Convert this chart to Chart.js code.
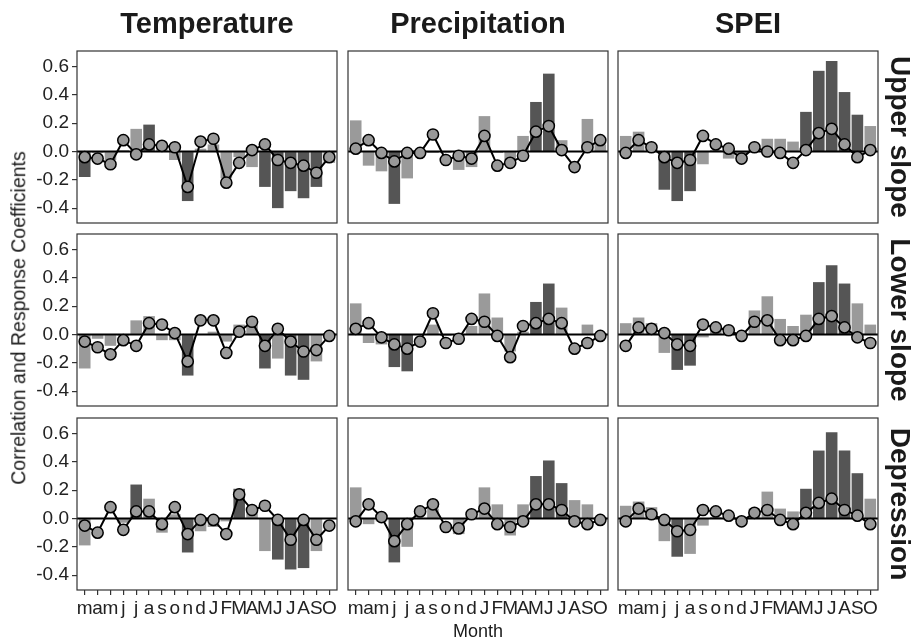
<!DOCTYPE html>
<html>
<head>
<meta charset="utf-8">
<script src="https://cdn.jsdelivr.net/npm/chart.js@4.4.1/dist/chart.umd.min.js"></script>
<style>
  body { margin: 0; background: #fff; font-family: 'Liberation Sans', Arial, sans-serif; }
  #wrap { position: relative; width: 914px; height: 641px; overflow: hidden; background: #fff; }
  canvas { position: absolute; }
  .lbl { position: absolute; white-space: nowrap; color: #1a1a1a; line-height: 1; }
  .col { font-weight: bold; font-size: 29px; transform: translate(-50%, -50%); }
  .strip { font-weight: bold; font-size: 28px; transform: translate(-50%, -50%) rotate(90deg); }
  .ytitle { font-size: 19.5px; transform: translate(-50%, -50%) rotate(-90deg); }
  .xtitle { font-size: 18px; transform: translate(-50%, -50%); }
</style>
</head>
<body>
<div id="wrap"></div>
<script>
const months = ['m', 'a', 'm', 'j', 'j', 'a', 's', 'o', 'n', 'd', 'J', 'F', 'M', 'A', 'M', 'J', 'J', 'A', 'S', 'O'];
const yTicks = [-0.4, -0.2, 0, 0.2, 0.4, 0.6];
const columnTitles = ['Temperature', 'Precipitation', 'SPEI'];
const rowTitles = ['Upper slope', 'Lower slope', 'Depression'];

// bars = correlation, sig = 1 for dark (significant) bars, line = response coefficients
const tempUpperBars = [-0.18, -0.01, -0.06, 0.01, 0.16, 0.19, 0.03, -0.06, -0.35, 0.02, 0.05, -0.19, -0.04, -0.11, -0.25, -0.40, -0.28, -0.33, -0.25, -0.08];
const tempUpperSig = [1, 0, 0, 0, 0, 1, 0, 0, 1, 0, 0, 0, 0, 0, 1, 1, 1, 1, 1, 0];
const tempUpperLine = [-0.04, -0.05, -0.09, 0.08, -0.02, 0.05, 0.04, 0.03, -0.25, 0.07, 0.09, -0.22, -0.08, 0.01, 0.05, -0.06, -0.08, -0.10, -0.15, -0.04];

const precUpperBars = [0.22, -0.10, -0.14, -0.37, -0.19, -0.01, -0.01, -0.01, -0.13, -0.11, 0.25, -0.01, -0.06, 0.11, 0.35, 0.55, 0.08, 0.00, 0.23, 0.05];
const precUpperSig = [0, 0, 0, 1, 0, 0, 0, 0, 0, 0, 0, 0, 0, 0, 1, 1, 0, 0, 0, 0];
const precUpperLine = [0.02, 0.08, -0.01, -0.07, -0.01, -0.01, 0.12, -0.06, -0.03, -0.05, 0.11, -0.10, -0.08, -0.03, 0.14, 0.18, 0.01, -0.11, 0.03, 0.08];

const speiUpperBars = [0.11, 0.14, 0.01, -0.27, -0.35, -0.28, -0.09, 0.01, -0.05, -0.02, 0.01, 0.09, 0.09, 0.07, 0.28, 0.57, 0.64, 0.42, 0.26, 0.18];
const speiUpperSig = [0, 0, 0, 1, 1, 1, 0, 0, 0, 0, 0, 0, 0, 0, 1, 1, 1, 1, 1, 0];
const speiUpperLine = [-0.01, 0.08, 0.03, -0.04, -0.08, -0.06, 0.11, 0.05, 0.02, -0.05, 0.03, 0.00, -0.01, -0.08, 0.01, 0.13, 0.16, 0.05, -0.04, 0.01];

const tempLowerBars = [-0.24, -0.03, -0.08, -0.01, 0.10, 0.13, -0.04, -0.04, -0.29, 0.00, 0.02, -0.05, 0.07, 0.07, -0.24, -0.17, -0.29, -0.32, -0.19, 0.00];
const tempLowerSig = [0, 0, 0, 0, 0, 0, 0, 0, 1, 0, 0, 0, 0, 0, 1, 0, 1, 1, 0, 0];
const tempLowerLine = [-0.05, -0.09, -0.14, -0.04, -0.08, 0.08, 0.07, 0.01, -0.19, 0.10, 0.10, -0.13, 0.02, 0.09, -0.08, 0.04, -0.05, -0.12, -0.11, -0.01];

const precLowerBars = [0.22, -0.06, -0.07, -0.23, -0.26, 0.00, 0.07, -0.01, -0.01, 0.06, 0.29, 0.12, -0.12, 0.02, 0.23, 0.36, 0.19, 0.00, 0.07, 0.00];
const precLowerSig = [0, 0, 0, 1, 1, 0, 0, 0, 0, 0, 0, 0, 0, 0, 1, 1, 0, 0, 0, 0];
const precLowerLine = [0.04, 0.08, -0.02, -0.07, -0.10, -0.05, 0.15, -0.06, -0.03, 0.11, 0.09, -0.01, -0.16, 0.06, 0.08, 0.11, 0.08, -0.10, -0.06, -0.01];

const speiLowerBars = [0.08, 0.12, 0.08, -0.13, -0.25, -0.22, -0.02, 0.04, 0.01, 0.00, 0.17, 0.27, 0.11, 0.06, 0.14, 0.37, 0.49, 0.36, 0.22, 0.07];
const speiLowerSig = [0, 0, 0, 0, 1, 1, 0, 0, 0, 0, 0, 0, 0, 0, 0, 1, 1, 1, 0, 0];
const speiLowerLine = [-0.08, 0.05, 0.04, 0.01, -0.07, -0.08, 0.07, 0.05, 0.03, -0.01, 0.09, 0.10, -0.04, -0.04, -0.01, 0.11, 0.13, 0.05, -0.02, -0.06];

const tempDepBars = [-0.19, 0.00, 0.00, -0.03, 0.24, 0.14, -0.10, 0.03, -0.24, -0.09, -0.06, -0.02, 0.21, 0.05, -0.23, -0.29, -0.36, -0.35, -0.23, 0.00];
const tempDepSig = [0, 0, 0, 0, 1, 0, 0, 0, 1, 0, 0, 0, 1, 0, 0, 1, 1, 1, 0, 0];
const tempDepLine = [-0.05, -0.10, 0.08, -0.08, 0.05, 0.05, -0.04, 0.08, -0.11, -0.01, -0.01, -0.11, 0.17, 0.06, 0.09, -0.01, -0.15, -0.01, -0.15, -0.05];

const precDepBars = [0.22, -0.04, -0.02, -0.31, -0.20, 0.00, 0.07, 0.00, -0.11, 0.00, 0.22, 0.10, -0.12, 0.10, 0.30, 0.41, 0.25, 0.13, 0.10, 0.00];
const precDepSig = [0, 0, 0, 1, 0, 0, 0, 0, 0, 0, 0, 0, 0, 0, 1, 1, 1, 0, 0, 0];
const precDepLine = [-0.02, 0.10, 0.01, -0.16, -0.04, 0.05, 0.10, -0.06, -0.07, 0.03, 0.07, -0.04, -0.06, -0.02, 0.10, 0.10, 0.06, -0.02, -0.04, -0.01];

const speiDepBars = [0.09, 0.12, 0.08, -0.16, -0.27, -0.25, -0.05, 0.01, 0.00, 0.00, 0.07, 0.19, 0.07, 0.05, 0.21, 0.48, 0.61, 0.48, 0.32, 0.14];
const speiDepSig = [0, 0, 0, 0, 1, 0, 0, 0, 0, 0, 0, 0, 0, 0, 1, 1, 1, 1, 1, 0];
const speiDepLine = [-0.02, 0.07, 0.03, -0.01, -0.09, -0.08, 0.06, 0.05, 0.02, -0.02, 0.04, 0.06, -0.01, -0.04, 0.04, 0.11, 0.14, 0.06, 0.02, -0.04];

const panels = [
  [[tempUpperBars, tempUpperSig, tempUpperLine], [precUpperBars, precUpperSig, precUpperLine], [speiUpperBars, speiUpperSig, speiUpperLine]],
  [[tempLowerBars, tempLowerSig, tempLowerLine], [precLowerBars, precLowerSig, precLowerLine], [speiLowerBars, speiLowerSig, speiLowerLine]],
  [[tempDepBars, tempDepSig, tempDepLine], [precDepBars, precDepSig, precDepLine], [speiDepBars, speiDepSig, speiDepLine]],
];

// layout (px)
const colLeft = [77, 348, 618];
const rowTop = [51, 234, 418];
const plotW = 260, plotH = 172;
const AXIS_W = 70, AXIS_H = 40, PAD = 24;
const X_MIN = -0.6, X_MAX = 19.6;
const FONT = "'Liberation Sans', Arial, sans-serif";

Chart.defaults.animation = false;
Chart.defaults.font.family = FONT;
Chart.defaults.plugins.legend.display = false;
Chart.defaults.plugins.tooltip.enabled = false;

const wrap = document.getElementById('wrap');

const framePlugin = {
  id: 'frame',
  afterDraw(chart) {
    const { ctx, chartArea: a } = chart;
    ctx.save();
    ctx.strokeStyle = '#333333';
    ctx.lineWidth = 1.2;
    ctx.strokeRect(a.left, a.top, a.width, a.height);
    ctx.restore();
  },
};

function addLabel(text, cls, x, y) {
  const d = document.createElement('div');
  d.className = 'lbl ' + cls;
  d.textContent = text;
  d.style.left = x + 'px';
  d.style.top = y + 'px';
  wrap.appendChild(d);
}

function createPanel(r, c, bars, sig, line) {
  const canvas = document.createElement('canvas');
  canvas.width = AXIS_W + plotW + PAD;
  canvas.height = PAD + plotH + AXIS_H;
  canvas.style.left = (colLeft[c] - AXIS_W) + 'px';
  canvas.style.top = (rowTop[r] - PAD) + 'px';
  wrap.appendChild(canvas);

  const showY = c === 0;
  const showX = r === 2;

  new Chart(canvas, {
    type: 'bar',
    data: {
      datasets: [
        {
          type: 'line',
          data: line.map((v, i) => ({ x: i, y: v })),
          borderColor: '#000',
          borderWidth: 2,
          pointRadius: 5.6,
          pointBackgroundColor: '#999999',
          pointBorderColor: '#000',
          pointBorderWidth: 1.5,
          tension: 0,
          order: 1,
        },
        {
          type: 'line',
          data: [{ x: X_MIN, y: 0 }, { x: X_MAX, y: 0 }],
          borderColor: '#000',
          borderWidth: 1.8,
          pointRadius: 0,
          order: 2,
        },
        {
          type: 'bar',
          data: bars.map((v, i) => ({ x: i, y: v })),
          backgroundColor: sig.map(s => (s ? '#555555' : '#9a9a9a')),
          borderWidth: 0,
          barPercentage: 0.9,
          categoryPercentage: 1,
          order: 3,
        },
      ],
    },
    options: {
      responsive: false,
      devicePixelRatio: 1,
      animation: false,
      layout: { padding: { top: PAD, right: PAD, left: 0, bottom: 0 } },
      plugins: { legend: { display: false }, tooltip: { enabled: false } },
      scales: {
        x: {
          type: 'linear',
          min: X_MIN,
          max: X_MAX,
          offset: false,
          afterBuildTicks: s => { s.ticks = months.map((m, i) => ({ value: i })); },
          afterFit: s => { s.height = AXIS_H; },
          border: { display: false },
          grid: { display: showX, offset: false, drawOnChartArea: false, drawTicks: true, tickLength: 5, color: '#333333', lineWidth: 1.2 },
          ticks: {
            display: showX, autoSkip: false, maxRotation: 0, minRotation: 0, padding: 2,
            color: '#222222', font: { size: 19 },
            callback: v => months[v],
          },
        },
        y: {
          min: -0.505,
          max: 0.71,
          afterBuildTicks: s => { s.ticks = yTicks.map(v => ({ value: v })); },
          afterFit: s => { s.width = AXIS_W; },
          border: { display: false },
          grid: { display: showY, drawOnChartArea: false, drawTicks: true, tickLength: 5, color: '#333333', lineWidth: 1.2 },
          ticks: {
            display: showY, padding: 3, color: '#222222', font: { size: 19 },
            callback: v => v.toFixed(1),
          },
        },
      },
    },
    plugins: [framePlugin],
  });
}

panels.forEach((row, r) => {
  row.forEach((p, c) => createPanel(r, c, p[0], p[1], p[2]));
});

columnTitles.forEach((t, c) => addLabel(t, 'col', colLeft[c] + plotW / 2, 23));
rowTitles.forEach((t, r) => addLabel(t, 'strip', 900, rowTop[r] + plotH / 2));
addLabel('Correlation and Response Coefficients', 'ytitle', 19, 318);
addLabel('Month', 'xtitle', colLeft[1] + plotW / 2, 631);
</script>
</body>
</html>
